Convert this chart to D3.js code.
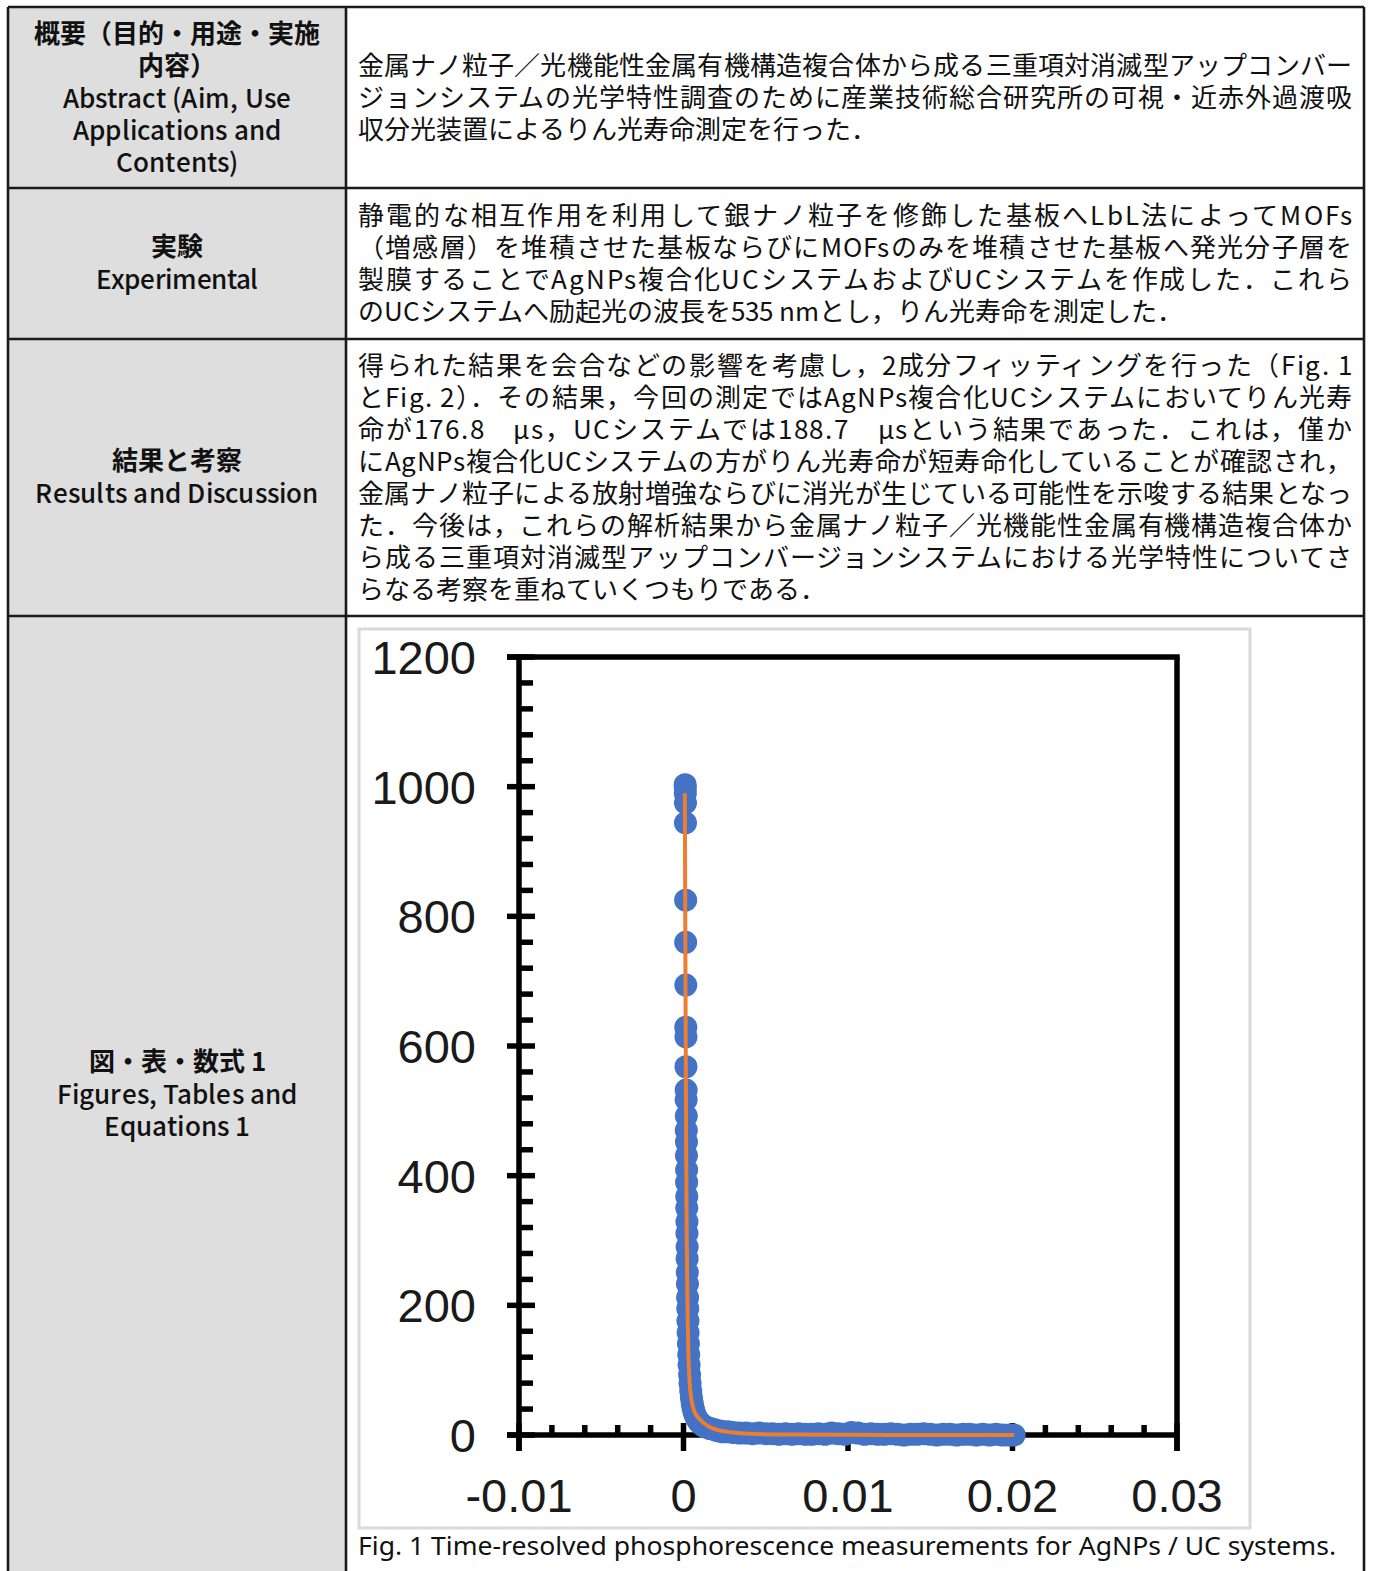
<!DOCTYPE html>
<html lang="ja">
<head>
<meta charset="utf-8">
<title>りん光寿命測定</title>
<script src="https://cdn.jsdelivr.net/npm/d3@7"></script>
<style>
  /* Noto Sans CJK JP with tighter line metrics so stacked lines keep to their 32px rows */
  @font-face {
    font-family: "JPText"; font-weight: 400;
    src: local("Noto Sans CJK JP Regular"), local("NotoSansCJKjp-Regular"), local("Noto Sans CJK JP");
    ascent-override: 90%; descent-override: 22%; line-gap-override: 0%;
  }
  @font-face {
    font-family: "JPText"; font-weight: 500;
    src: local("Noto Sans CJK JP Medium"), local("NotoSansCJKjp-Medium"),
         local("Noto Sans CJK JP Regular"), local("NotoSansCJKjp-Regular");
    ascent-override: 90%; descent-override: 22%; line-gap-override: 0%;
  }
  @font-face {
    font-family: "JPText"; font-weight: 700;
    src: local("Noto Sans CJK JP Bold"), local("NotoSansCJKjp-Bold");
    ascent-override: 90%; descent-override: 22%; line-gap-override: 0%;
  }
  html, body { margin: 0; padding: 0; background: #ffffff; }
  #wrap { position: relative; width: 1375px; height: 1571px; overflow: hidden; }
  #page { position: absolute; left: 0; top: 0; display: block; }
  .line {
    position: absolute; height: 32px; line-height: 32px; white-space: nowrap;
    font-family: "JPText", "Noto Sans CJK JP", "Noto Sans", sans-serif; font-size: 26px; color: #111;
  }
  .head { text-align: center; }
  .ja { font-weight: 700; }
  .en { font-weight: 500; }
</style>
</head>
<body>
<div id="wrap">
  <svg id="page" width="1375" height="1571"></svg>
</div>
<script>
// ---- Table text -------------------------------------------------------
const headings = [
  { ja: ["概要（目的・用途・実施", "内容）"], en: ["Abstract (Aim, Use", "Applications and", "Contents)"] },
  { ja: ["実験"], en: ["Experimental"] },
  { ja: ["結果と考察"], en: ["Results and Discussion"] },
  { ja: ["図・表・数式 1"], en: ["Figures, Tables and", "Equations 1"] }
];

const abstractLines = [
  "金属ナノ粒子／光機能性金属有機構造複合体から成る三重項対消滅型アップコンバー",
  "ジョンシステムの光学特性調査のために産業技術総合研究所の可視・近赤外過渡吸",
  "収分光装置によるりん光寿命測定を行った．"
];
const experimentalLines = [
  "静電的な相互作用を利用して銀ナノ粒子を修飾した基板へLbL法によってMOFs",
  "（増感層）を堆積させた基板ならびにMOFsのみを堆積させた基板へ発光分子層を",
  "製膜することでAgNPs複合化UCシステムおよびUCシステムを作成した．これら",
  "のUCシステムへ励起光の波長を535 nmとし，りん光寿命を測定した．"
];
const resultsLines = [
  "得られた結果を会合などの影響を考慮し，2成分フィッティングを行った（Fig. 1",
  "とFig. 2）．その結果，今回の測定ではAgNPs複合化UCシステムにおいてりん光寿",
  "命が176.8　μs，UCシステムでは188.7　μsという結果であった．これは，僅か",
  "にAgNPs複合化UCシステムの方がりん光寿命が短寿命化していることが確認され，",
  "金属ナノ粒子による放射増強ならびに消光が生じている可能性を示唆する結果となっ",
  "た．今後は，これらの解析結果から金属ナノ粒子／光機能性金属有機構造複合体か",
  "ら成る三重項対消滅型アップコンバージョンシステムにおける光学特性についてさ",
  "らなる考察を重ねていくつもりである．"
];
const caption = "Fig. 1 Time-resolved phosphorescence measurements for AgNPs / UC systems.";

// ---- Chart data: phosphorescence decay (time in s, intensity in a.u.) --
const xTickLabels = ["-0.01", "0", "0.01", "0.02", "0.03"];
const yTickLabels = ["0", "200", "400", "600", "800", "1000", "1200"];

const measuredTime = [
  0.00010, 0.00011, 0.00011, 0.00012, 0.00012, 0.00013, 0.00013, 0.00014, 0.00014, 0.00015,
  0.00015, 0.00016, 0.00016, 0.00017, 0.00017, 0.00018, 0.00018, 0.00019, 0.00019, 0.00020,
  0.00020, 0.00021, 0.00021, 0.00022, 0.00022, 0.00023, 0.00024, 0.00025, 0.00026, 0.00027,
  0.00028, 0.00030, 0.00032, 0.00034, 0.00037, 0.00040, 0.00044, 0.00048, 0.00053, 0.00058,
  0.00064, 0.00070, 0.00078, 0.00086, 0.00095, 0.00105, 0.00116, 0.00128, 0.00140, 0.00160,
  0.00180, 0.00200, 0.00220, 0.00240, 0.00270, 0.00300, 0.00340, 0.00380, 0.00420, 0.00460,
  0.00500, 0.00540, 0.00580, 0.00620, 0.00660, 0.00700, 0.00740, 0.00780, 0.00820, 0.00860,
  0.00900, 0.00940, 0.00980, 0.01020, 0.01060, 0.01100, 0.01140, 0.01180, 0.01220, 0.01260,
  0.01300, 0.01340, 0.01380, 0.01420, 0.01460, 0.01500, 0.01540, 0.01580, 0.01620, 0.01660,
  0.01700, 0.01740, 0.01780, 0.01820, 0.01860, 0.01900, 0.01940, 0.01980, 0.02010
];
const measuredIntensity = [
  1003, 998, 990, 975, 944, 825, 760, 694, 629, 614,
  568, 532, 517, 492, 470, 452, 431, 409, 390, 368,
  350, 329, 311, 290, 272, 251, 233, 212, 195, 176,
  158, 141, 124, 108, 93, 80, 68, 58, 49, 42,
  36, 31, 27, 23, 20, 18, 15, 13, 12, 10,
  9, 7, 6, 5, 5, 4, 3, 3, 2, 3,
  2, 2, 1, 2, 1, 2, 1, 1, 2, 1,
  3, 2, 1, 4, 3, 1, 2, 1, 1, 2,
  1, 0, 1, 1, 2, 1, 0, 1, 1, 0,
  1, 1, 0, 1, 0, 1, 0, 0, 0
];

// Two-component exponential fit curve
const fitTime = [
  0.00008, 0.00010, 0.00012, 0.00014, 0.00016, 0.00018, 0.00020, 0.00023, 0.00026, 0.00030,
  0.00035, 0.00040, 0.00050, 0.00060, 0.00070, 0.00085, 0.00100, 0.00130, 0.00170, 0.00220,
  0.00300, 0.00400, 0.00600, 0.01000, 0.01500, 0.02010
];
const fitIntensity = [
  990, 850, 700, 570, 460, 370, 300, 225, 170, 125,
  92, 72, 52, 41, 34, 28, 24, 17, 11, 7,
  4, 2, 0.8, 0.3, 0.1, 0
];

// ---- Drawing ----------------------------------------------------------
const wrap = d3.select("#wrap");
const svg = d3.select("#page");

// table geometry
const tableLeft = 8, tableRight = 1364, colSplit = 346;
const rowEdges = [7, 188, 339, 616, 1590];

// left heading column
svg.append("g").selectAll("rect")
  .data(d3.pairs(rowEdges))
  .join("rect")
  .attr("x", tableLeft).attr("y", d => d[0])
  .attr("width", colSplit - tableLeft).attr("height", d => d[1] - d[0])
  .attr("fill", "#dedede");

// grid lines
const grid = svg.append("g").attr("stroke", "#1a1a1a").attr("stroke-width", 2.6);
rowEdges.slice(0, 4).forEach(y => {
  grid.append("line").attr("x1", tableLeft).attr("x2", tableRight).attr("y1", y).attr("y2", y);
});
[tableLeft, colSplit, tableRight].forEach(x => {
  grid.append("line").attr("x1", x).attr("x2", x).attr("y1", rowEdges[0]).attr("y2", 1575);
});

// where the baseline falls inside a 32px line box, measured with a zero-size probe
function measureBaseline(cls) {
  const probe = wrap.append("div").attr("class", "line " + cls).style("left", "0px").style("top", "0px")
    .style("visibility", "hidden");
  probe.append("span").text("あA");
  const mark = probe.append("span").style("display", "inline-block")
    .style("width", "0px").style("height", "0px").style("vertical-align", "baseline");
  const off = mark.node().getBoundingClientRect().top - probe.node().getBoundingClientRect().top;
  probe.remove();
  return off;
}
const baselineOf = { body: measureBaseline("body"), "head ja": measureBaseline("head ja"), "head en": measureBaseline("head en") };

function addLine(cls, left, width, baseline, text) {
  const div = wrap.append("div").attr("class", "line " + cls)
    .style("left", left + "px").style("top", (baseline - baselineOf[cls]) + "px");
  if (width != null) div.style("width", width + "px");
  const span = div.append("span").text(text);
  return { div, span };
}
// spread a line's letters so that its visible width equals `width`
function spread(span, width) {
  const natural = span.node().getBoundingClientRect().width;
  const n = Array.from(span.text()).length;
  const ls = n > 1 ? (width - natural) / (n - 1) : 0;
  span.style("letter-spacing", ls + "px");
  return ls;
}

// heading labels (centred in the grey column)
const headingLayout = [
  { ja: [43, 75], en: [108, 140, 172], enW: [228, 208, 122] },
  { ja: [256], en: [289], enW: [162] },
  { ja: [470], en: [503], enW: [283] },
  { ja: [1071], en: [1104, 1136], enW: [240, 146] }
];
headings.forEach((h, i) => {
  const L = headingLayout[i];
  h.ja.forEach((t, j) => addLine("head ja", tableLeft, colSplit - tableLeft, L.ja[j], t));
  h.en.forEach((t, j) => {
    const { span } = addLine("head en", tableLeft, colSplit - tableLeft, L.en[j], t);
    const ls = spread(span, L.enW[j]);
    span.style("padding-left", ls + "px");
  });
});

// body paragraphs: every line but the last is justified to the cell width
const bodyX = 358, bodyW = 994, lineGap = 32;
function paragraph(lines, firstBaseline) {
  lines.forEach((t, i) => {
    const { span } = addLine("body", bodyX, null, firstBaseline + i * lineGap, t);
    if (i < lines.length - 1) spread(span, bodyW);
  });
}
paragraph(abstractLines, 75);
paragraph(experimentalLines, 225);
paragraph(resultsLines, 375);

// ---- Figure -----------------------------------------------------------
svg.append("rect")
  .attr("x", 359).attr("y", 629).attr("width", 891).attr("height", 899)
  .attr("fill", "#ffffff").attr("stroke", "#d9d9d9").attr("stroke-width", 3);

const x = d3.scaleLinear().domain([-0.01, 0.03]).range([519, 1177]);
const y = d3.scaleLinear().domain([0, 1200]).range([1435, 657]);

const xMajor = xTickLabels.map(Number);
const yMajor = yTickLabels.map(Number);
const xMinor = d3.range(-0.01, 0.0301, 0.002).filter(v => !xMajor.some(m => Math.abs(m - v) < 1e-9));
const yMinor = d3.range(0, 1201, 40).filter(v => v % 200 !== 0);

const axes = svg.append("g").attr("stroke", "#000").attr("stroke-width", 5.5).attr("fill", "none");
// frame: left axis, top line, right line, bottom axis
axes.append("line").attr("x1", x(-0.01)).attr("x2", x(-0.01)).attr("y1", y(1200) - 2.7).attr("y2", y(0) + 16);
axes.append("line").attr("x1", x(-0.01) - 12).attr("x2", x(0.03) + 2.7).attr("y1", y(1200)).attr("y2", y(1200));
axes.append("line").attr("x1", x(0.03)).attr("x2", x(0.03)).attr("y1", y(1200)).attr("y2", y(0) + 16);
axes.append("line").attr("x1", x(-0.01) - 12).attr("x2", x(0.03)).attr("y1", y(0)).attr("y2", y(0));

// y ticks: majors cross the axis, minors point inward
axes.selectAll(".ymaj").data(yMajor).join("line")
  .attr("x1", x(-0.01) - 12).attr("x2", x(-0.01) + 16)
  .attr("y1", d => y(d)).attr("y2", d => y(d));
axes.selectAll(".ymin").data(yMinor).join("line")
  .attr("x1", x(-0.01)).attr("x2", x(-0.01) + 14)
  .attr("y1", d => y(d)).attr("y2", d => y(d));
// x ticks
axes.selectAll(".xmaj").data(xMajor).join("line")
  .attr("x1", d => x(d)).attr("x2", d => x(d))
  .attr("y1", y(0) - 12).attr("y2", y(0) + 16);
axes.selectAll(".xmin").data(xMinor).join("line")
  .attr("x1", d => x(d)).attr("x2", d => x(d))
  .attr("y1", y(0) - 10).attr("y2", y(0));

// tick labels
const tickFont = "'Liberation Sans', Arial, sans-serif";
svg.append("g").attr("font-family", tickFont).attr("font-size", 47).attr("fill", "#1a1a1a")
  .attr("text-anchor", "end")
  .selectAll("text").data(yTickLabels).join("text")
  .attr("x", 476).attr("y", d => y(+d) + 17).text(d => d);
svg.append("g").attr("font-family", tickFont).attr("font-size", 47).attr("fill", "#1a1a1a")
  .attr("text-anchor", "middle")
  .selectAll("text").data(xTickLabels).join("text")
  .attr("x", d => x(+d)).attr("y", 1512).text(d => d);

// measured points
const points = measuredTime.map((t, i) => ({ t, v: measuredIntensity[i] }));
svg.append("g").attr("fill", "#4472C4")
  .selectAll("circle").data(points).join("circle")
  .attr("cx", d => x(d.t)).attr("cy", d => y(d.v)).attr("r", 11.5);

// fit curve
const fit = fitTime.map((t, i) => ({ t, v: fitIntensity[i] }));
svg.append("path").datum(fit)
  .attr("fill", "none").attr("stroke", "#ED7D31").attr("stroke-width", 4)
  .attr("stroke-linejoin", "round")
  .attr("d", d3.line().x(d => x(d.t)).y(d => y(d.v)).curve(d3.curveMonotoneX));

// caption
svg.append("text").attr("x", 358).attr("y", 1555)
  .attr("font-family", "'Noto Sans', sans-serif").attr("font-size", 25).attr("fill", "#111")
  .attr("textLength", 978).attr("lengthAdjust", "spacingAndGlyphs").text(caption);
</script>
</body>
</html>
